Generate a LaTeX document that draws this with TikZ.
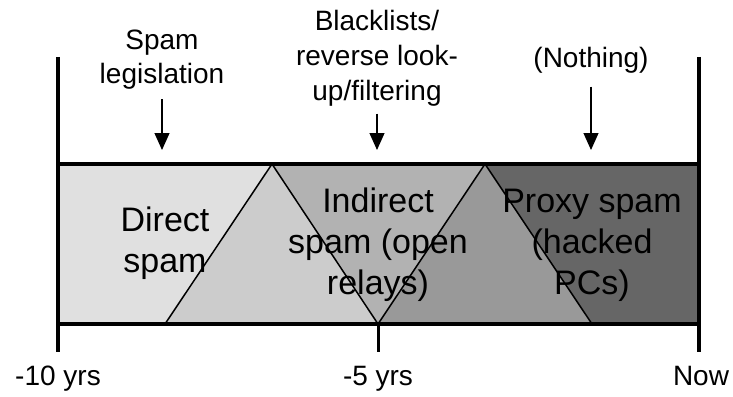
\documentclass[tikz,border=0pt]{standalone}
\usepackage{fontspec}
\setmainfont{Liberation Sans}
\usetikzlibrary{arrows.meta}

\definecolor{directgray}{gray}{0.88}
\definecolor{riseagray}{gray}{0.80}
\definecolor{indirectgray}{gray}{0.70}
\definecolor{risebgray}{gray}{0.60}
\definecolor{proxygray}{gray}{0.40}

\begin{document}
\begin{tikzpicture}[x=1pt,y=-1pt,>={Triangle[length=17pt,width=15pt]},
  era/.style={font=\fontsize{34}{41}\selectfont,align=center},
  cause/.style={font=\fontsize{28}{34}\selectfont,align=center},
  yrs/.style={font=\fontsize{28}{34}\selectfont,anchor=base}]

\useasboundingbox (0,0) rectangle (733,396);

% bands of the timeline
\fill[directgray] (58,164) -- (272,164) -- (165,324) -- (58,324) -- cycle;
\fill[riseagray] (272,164) -- (378,324) -- (165,324) -- cycle;
\fill[indirectgray] (272,164) -- (485,164) -- (378,324) -- cycle;
\fill[risebgray] (485,164) -- (592,324) -- (378,324) -- cycle;
\fill[proxygray] (485,164) -- (699,164) -- (699,324) -- (592,324) -- cycle;
\draw[line width=1.5pt] (165,324) -- (272,164) -- (378,324) -- (485,164) -- (592,324);

\node[era] (direct) at (165,243) {Direct\\spam};
\node[era] (indirect) at (378,245) {Indirect\\spam (open\\relays)};
\node[era] (proxy) at (592,245) {Proxy spam\\(hacked\\PCs)};

\draw[line width=4pt] (58,164) rectangle (699,324);
\draw[line width=4pt] (58,57) -- (58,352);
\draw[line width=4pt] (699,57) -- (699,352);
\draw[line width=3pt] (378,324) -- (378,352);

% counter measures
\coordinate (hit) at (0,150);
\node[cause] (legis) at (162,60) {Spam\\legislation};
\node[cause,font=\fontsize{28}{35}\selectfont] (blacklist) at (377,58) {Blacklists/\\reverse look-\\up/filtering};
\node[cause] (nothing) at (591,60) {(Nothing)};

\draw[->,line width=1.2pt,shorten <=6pt] (legis.south) -- (legis.south |- hit);
\draw[->,line width=1.2pt,shorten <=4pt] (blacklist.south) -- (blacklist.south |- hit);
\draw[->,line width=1.2pt,shorten <=10pt] (nothing.south) -- (nothing.south |- hit);

% time axis
\node[yrs] (tenago) at (58,385) {-10 yrs};
\node[yrs] (fiveago) at (378,385) {-5 yrs};
\node[yrs] (now) at (701,385) {Now};
\end{tikzpicture}
\end{document}
